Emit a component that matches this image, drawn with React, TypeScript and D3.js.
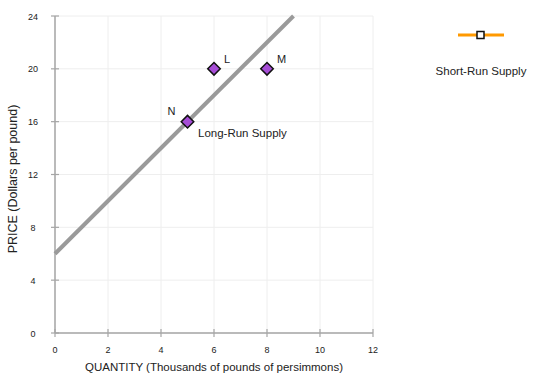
import React from 'react';
import * as d3 from 'd3';

const xTicks = [0, 2, 4, 6, 8, 10, 12];
const yTicks = [0, 4, 8, 12, 16, 20, 24];
const longRunSupply = [
  { q: 0, p: 6 },
  { q: 9, p: 24 },
];
const points = [
  { name: 'L', q: 6, p: 20, dx: 10, dy: -6 },
  { name: 'M', q: 8, p: 20, dx: 10, dy: -6 },
  { name: 'N', q: 5, p: 16, dx: -20, dy: -7 },
];

const W = 541;
const H = 389;
const margin = { left: 55, top: 16, right: 168, bottom: 56 };
const font = 'Liberation Sans, Arial, sans-serif';

const x = d3.scaleLinear().domain([0, 12]).range([margin.left, W - margin.right]);
const y = d3.scaleLinear().domain([0, 24]).range([H - margin.bottom, margin.top]);

const line = d3
  .line<{ q: number; p: number }>()
  .x((d) => x(d.q))
  .y((d) => y(d.p));

const diamond = d3.symbol().type(d3.symbolDiamond2).size(100);

export default function App() {
  return (
    <svg
      width={W}
      height={H}
      style={{ position: 'absolute', left: 0, top: 0, background: '#fff' }}
      fontFamily={font}
    >
      {/* grid */}
      {xTicks.map((t) => (
        <line key={'gx' + t} x1={x(t)} x2={x(t)} y1={y(24)} y2={y(0)} stroke="#eeeeee" />
      ))}
      {yTicks.map((t) => (
        <line key={'gy' + t} x1={x(0)} x2={x(12)} y1={y(t)} y2={y(t)} stroke="#eeeeee" />
      ))}

      {/* axes */}
      <line x1={x(0)} x2={x(12)} y1={y(0)} y2={y(0)} stroke="#a6a6a6" strokeWidth={1.5} />
      <line x1={x(0)} x2={x(0)} y1={y(0)} y2={y(24)} stroke="#a6a6a6" strokeWidth={1.5} />
      {xTicks.map((t) => (
        <g key={'tx' + t}>
          <line x1={x(t)} x2={x(t)} y1={y(0) - 4} y2={y(0) + 4} stroke="#a6a6a6" strokeWidth={1.2} />
          <text x={x(t)} y={y(0) + 20} fontSize={9} textAnchor="middle" fill="#222">
            {t}
          </text>
        </g>
      ))}
      {yTicks.map((t) => (
        <g key={'ty' + t}>
          <line x1={x(0) - 4} x2={x(0) + 4} y1={y(t)} y2={y(t)} stroke="#a6a6a6" strokeWidth={1.2} />
          <text x={33} y={y(t) + 3.5} fontSize={9} textAnchor="middle" fill="#222">
            {t}
          </text>
        </g>
      ))}

      <text x={214} y={371} fontSize={11.5} textAnchor="middle" fill="#222">
        QUANTITY (Thousands of pounds of persimmons)
      </text>
      <text
        transform="translate(17,179) rotate(-90)"
        fontSize={12.5}
        textAnchor="middle"
        fill="#222"
      >
        PRICE (Dollars per pound)
      </text>

      {/* long-run supply */}
      <path d={line(longRunSupply) ?? ''} stroke="#9a9a9a" strokeWidth={4} fill="none" />
      <text x={198} y={137} fontSize={11.5} fill="#222">
        Long-Run Supply
      </text>

      {points.map((d) => (
        <g key={d.name}>
          <path
            d={diamond() ?? ''}
            transform={`translate(${x(d.q)},${y(d.p)})`}
            fill="#a64dd6"
            stroke="#111"
            strokeWidth={1.5}
          />
          <text x={x(d.q) + d.dx} y={y(d.p) + d.dy} fontSize={11} fill="#222">
            {d.name}
          </text>
        </g>
      ))}

      {/* legend */}
      <line x1={458} x2={504} y1={35} y2={35} stroke="#ff9900" strokeWidth={3} />
      <rect x={477} y={31.5} width={7} height={7} fill="#fff" stroke="#111" strokeWidth={1.5} />
      <text x={481} y={75} fontSize={11.5} textAnchor="middle" fill="#222">
        Short-Run Supply
      </text>
    </svg>
  );
}
